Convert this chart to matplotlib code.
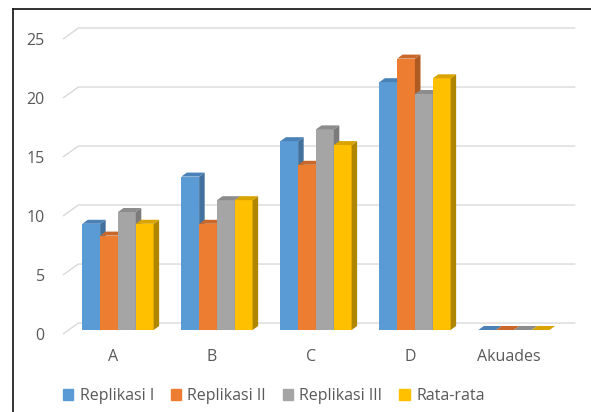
import matplotlib.pyplot as plt
import numpy as np
from matplotlib.lines import Line2D
from matplotlib.patches import Patch, Polygon

# ============================================
# データ
# ============================================
categories = ["A", "B", "C", "D", "Akuades"]
series_names = ["Replikasi I", "Replikasi II", "Replikasi III", "Rata-rata"]

replikasi_1 = [9, 13, 16, 21, 0]
replikasi_2 = [8, 9, 14, 23, 0]
replikasi_3 = [10, 11, 17, 20, 0]
rata_rata = [9, 11, 15.67, 21.33, 0]

y_ticks = [0, 5, 10, 15, 20, 25]

# ============================================
# スタイル
# ============================================
plt.rcParams["font.family"] = ["Open Sans", "DejaVu Sans"]

front_colors = ["#5B9BD5", "#ED7D31", "#A5A5A5", "#FFC000"]
side_colors = ["#41719C", "#AE5A21", "#7B7B7B", "#B08600"]
top_colors = ["#4A82B8", "#C9682A", "#8C8C8C", "#D9A300"]
text_color = "#595959"
grid_color = "#D9D9D9"
FS = 11.5

BAR_W = 0.18
DX, DY = 0.056, 0.34  # 奥行き方向のずれ

fig = plt.figure(figsize=(5.91, 4.12), dpi=100)
ax = fig.add_axes([33.8 / 591, (412 - 365.4) / 412, 554.4 / 591, 354 / 412])
ax.set_xlim(-0.8, 4.8)
ax.set_ylim(-3, 27)
ax.axis("off")

# 目盛線（床から奥の壁へ）
for v in y_ticks:
    ax.plot([-0.505, -0.35, 4.67], [v - 0.34, v + 0.59, v + 0.59],
            color=grid_color, lw=1, zorder=0, solid_capstyle="butt")
    ax.text(-0.69, v - 0.5, str(v), ha="right", va="center",
            fontsize=FS, color=text_color)

# 疑似3D棒
all_series = [replikasi_1, replikasi_2, replikasi_3, rata_rata]
base_x = np.arange(len(categories)) - 0.31

for j, vals in enumerate(all_series):
    xs = base_x + j * BAR_W
    z = 2 + j
    ax.bar(xs, vals, width=BAR_W, align="edge", color=front_colors[j],
           linewidth=0, zorder=z)
    for x0, v in zip(xs, vals):
        x1 = x0 + BAR_W
        side = Polygon([(x1, 0), (x1 + DX, DY), (x1 + DX, v + DY), (x1, v)],
                       closed=True, facecolor=side_colors[j], lw=0, zorder=z)
        top = Polygon([(x0, v), (x1, v), (x1 + DX, v + DY), (x0 + DX, v + DY)],
                      closed=True, facecolor=top_colors[j], lw=0, zorder=z)
        ax.add_patch(side)
        ax.add_patch(top)

# 項目ラベル
for i, c in enumerate(categories):
    ax.text(i, -2.3, c, ha="center", va="center", fontsize=FS, color=text_color)

# 凡例
handles = [Patch(color=c) for c in front_colors]
fig.legend(handles, series_names, ncol=4, loc="center",
           bbox_to_anchor=(0.463, 0.038), frameon=False,
           handlelength=0.65, handleheight=0.65, handletextpad=0.4,
           columnspacing=1.05, fontsize=FS, labelcolor=text_color)

# 枠線
fig.add_artist(Line2D([13 / 591, 13 / 591], [0, 1 - 9 / 412],
                      transform=fig.transFigure, color="#222222", lw=1.3))
fig.add_artist(Line2D([13 / 591, 1], [1 - 9 / 412, 1 - 9 / 412],
                      transform=fig.transFigure, color="#222222", lw=1.3))

fig.savefig("out.png", dpi=100)
